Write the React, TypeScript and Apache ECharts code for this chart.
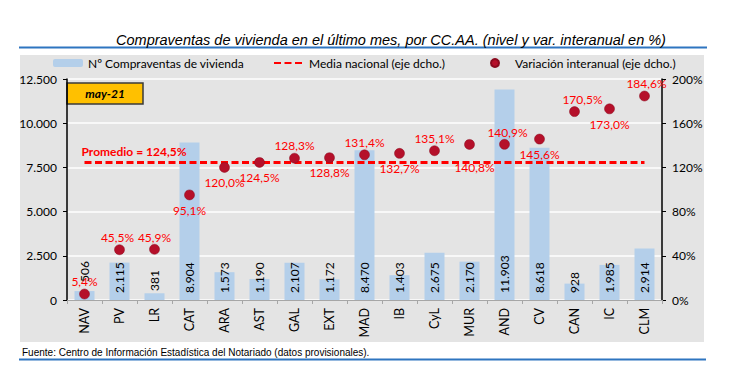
import React, { useEffect, useRef } from "react";
import * as echarts from "echarts";

const categories = ["NAV", "PV", "LR", "CAT", "ARA", "AST", "GAL", "EXT", "MAD", "IB", "CyL", "MUR", "AND", "CV", "CAN", "IC", "CLM"];
const compraventas = [506, 2115, 381, 8904, 1573, 1190, 2107, 1172, 8470, 1403, 2675, 2170, 11903, 8618, 928, 1985, 2914];
const variacion = [5.4, 45.5, 45.9, 95.1, 120.0, 124.5, 128.3, 128.8, 131.4, 132.7, 135.1, 140.8, 140.9, 145.6, 170.5, 173.0, 184.6];
const mediaNacional = 124.5;
const leftTicks = { min: 0, max: 12500, interval: 2500 };
const rightTicks = { min: 0, max: 200, interval: 40 };
const periodo = "may-21";

const S_BAR = "Nº Compraventas de vivienda";
const S_MEDIA = "Media nacional (eje dcho.)";
const S_VAR = "Variación interanual (eje dcho.)";

// label placement per point (style, not data)
const labelSide = ["top", "top", "top", "bottom", "bottom", "bottom", "top", "bottom", "top", "bottom", "top", "bottom", "top", "bottom", "top", "bottom", "top"];
const labelShiftX = [0, -2, 0, 0, 0, 0, 0, 0, 0, 0, 0, 5, 3, 0, 8, 0, 2];
const barLabelDistance = [18, 7, 9, 7, 7, 7, 7, 7, 7, 7, 7, 7, 7, 7, 7, 7, 7];

const FONT = "Lato, 'Noto Sans', sans-serif";
const ARIAL = "'Liberation Sans', Arial, sans-serif";

const fmtThousands = (v: number) => v.toString().replace(/\B(?=(\d{3})+(?!\d))/g, ".");
const fmtPct = (v: number) => v.toFixed(1).replace(".", ",") + "%";

const legendBase = {
  top: 57, itemWidth: 30, itemHeight: 8, padding: 0,
  textStyle: { fontFamily: FONT, fontSize: 12, color: "#000" },
};

export default function App() {
  const ref = useRef<HTMLDivElement>(null);
  useEffect(() => {
    if (!ref.current) return;
    const chart = echarts.init(ref.current, undefined, { renderer: "svg" });
    const option: any = {
      animation: false,
      backgroundColor: "#ffffff",
      textStyle: { fontFamily: FONT },
      graphic: [
        { type: "rect", shape: { x: 20, y: 55, width: 684, height: 287 }, style: { fill: "#e4e4e4" }, z: -10, silent: true },
        { type: "line", shape: { x1: 19, y1: 47.5, x2: 707, y2: 47.5 }, style: { stroke: "#2e75c0", lineWidth: 2 } },
        { type: "line", shape: { x1: 19, y1: 359.5, x2: 706, y2: 359.5 }, style: { stroke: "#2e75c0", lineWidth: 2 } },
        {
          type: "text", x: 391, y: 40,
          style: {
            text: "Compraventas de vivienda en el último mes, por CC.AA. (nivel y var. interanual en %)",
            fontFamily: ARIAL, fontStyle: "italic", fontSize: 14.5,
            fill: "#000", align: "center", verticalAlign: "middle",
          },
        },
        {
          type: "text", x: 22, y: 352,
          style: {
            text: "Fuente: Centro de Información Estadística del Notariado (datos provisionales).",
            fontFamily: ARIAL, fontSize: 10, fill: "#000", align: "left", verticalAlign: "middle",
          },
        },
        {
          type: "group", x: 67, y: 83, z: 100,
          children: [
            { type: "rect", shape: { x: 0, y: 0, width: 76, height: 21 }, style: { fill: "#ffc000", stroke: "#3a3a3a", lineWidth: 1.5 } },
            { type: "text", x: 38, y: 10.5, style: { text: periodo, fontFamily: FONT, fontSize: 12, fontWeight: "bold", fontStyle: "italic", fill: "#000", align: "center", verticalAlign: "middle" } },
          ],
        },
      ],
      legend: [
        { ...legendBase, left: 53, data: [{ name: S_BAR }] },
        { ...legendBase, left: 273, data: [{ name: S_MEDIA, itemStyle: { opacity: 0 } }] },
        { ...legendBase, left: 490, data: [{ name: S_VAR, icon: "circle" }] },
      ],
      grid: { left: 67, right: 88, top: 79, bottom: 72 },
      xAxis: {
        type: "category",
        data: categories,
        axisLine: { lineStyle: { color: "#a6a6a6", width: 1 } },
        axisTick: { show: true, length: 4, lineStyle: { color: "#a6a6a6" } },
        axisLabel: { rotate: 90, color: "#000", fontSize: 12.5, fontFamily: FONT, margin: 8 },
      },
      yAxis: [
        {
          type: "value", ...leftTicks,
          axisLine: { show: true, lineStyle: { color: "#000", width: 1.5 } },
          axisTick: { show: true, length: 4, lineStyle: { color: "#000" } },
          axisLabel: { color: "#000", fontSize: 12, fontFamily: FONT, margin: 10, formatter: (v: number) => fmtThousands(v) },
          splitLine: { show: true, lineStyle: { color: "#ffffff", width: 1.5 } },
        },
        {
          type: "value", ...rightTicks, position: "right",
          axisLine: { show: true, lineStyle: { color: "#000", width: 1.5 } },
          axisTick: { show: true, length: 4, lineStyle: { color: "#000" } },
          axisLabel: { color: "#000", fontSize: 12, fontFamily: FONT, margin: 10, formatter: (v: number) => v + "%" },
          splitLine: { show: false },
        },
      ],
      series: [
        {
          name: S_BAR,
          type: "bar",
          yAxisIndex: 0,
          data: compraventas.map((v, i) => ({ value: v, label: { distance: barLabelDistance[i] } })),
          barWidth: 20,
          itemStyle: { color: "#b4cfea" },
          label: {
            show: true, position: "insideBottom", rotate: 90, align: "left", verticalAlign: "middle",
            color: "#000", fontSize: 12, fontFamily: FONT,
            formatter: (p: any) => fmtThousands(p.value),
          },
          z: 2,
        },
        {
          name: S_MEDIA,
          type: "line",
          yAxisIndex: 1,
          data: categories.map(() => mediaNacional),
          symbol: "none",
          showSymbol: false,
          lineStyle: { color: "#ff0000", width: 3, type: [7, 3.5] },
          itemStyle: { color: "#ff0000" },
          markPoint: {
            symbol: "circle",
            symbolSize: 0,
            data: [{ name: "Promedio", coord: [categories[0], mediaNacional] }],
            label: {
              show: true, position: "top", align: "left", distance: 5, offset: [-3, 0],
              formatter: () => "Promedio = " + fmtPct(mediaNacional),
              color: "#ff0000", fontWeight: "bold", fontSize: 12, fontFamily: FONT,
            },
          },
          z: 3,
        },
        {
          name: S_VAR,
          type: "scatter",
          yAxisIndex: 1,
          symbolSize: 10,
          data: variacion.map((v, i) => ({
            value: v,
            label: {
              position: labelSide[i],
              distance: labelSide[i] === "bottom" ? (i === 11 ? 12 : 4) : 1,
              offset: [labelShiftX[i], 0],
            },
          })),
          itemStyle: { color: "#b5102a", opacity: 1, borderColor: "#8a0a1e", borderWidth: 0.5 },
          label: {
            show: true, color: "#ff0000", fontSize: 12, fontFamily: FONT,
            formatter: (p: any) => fmtPct(p.value),
          },
          z: 4,
        },
      ],
    };
    chart.setOption(option);
    return () => chart.dispose();
  }, []);
  return <div ref={ref} style={{ position: "fixed", left: 0, top: 0, width: 750, height: 372 }} />;
}
